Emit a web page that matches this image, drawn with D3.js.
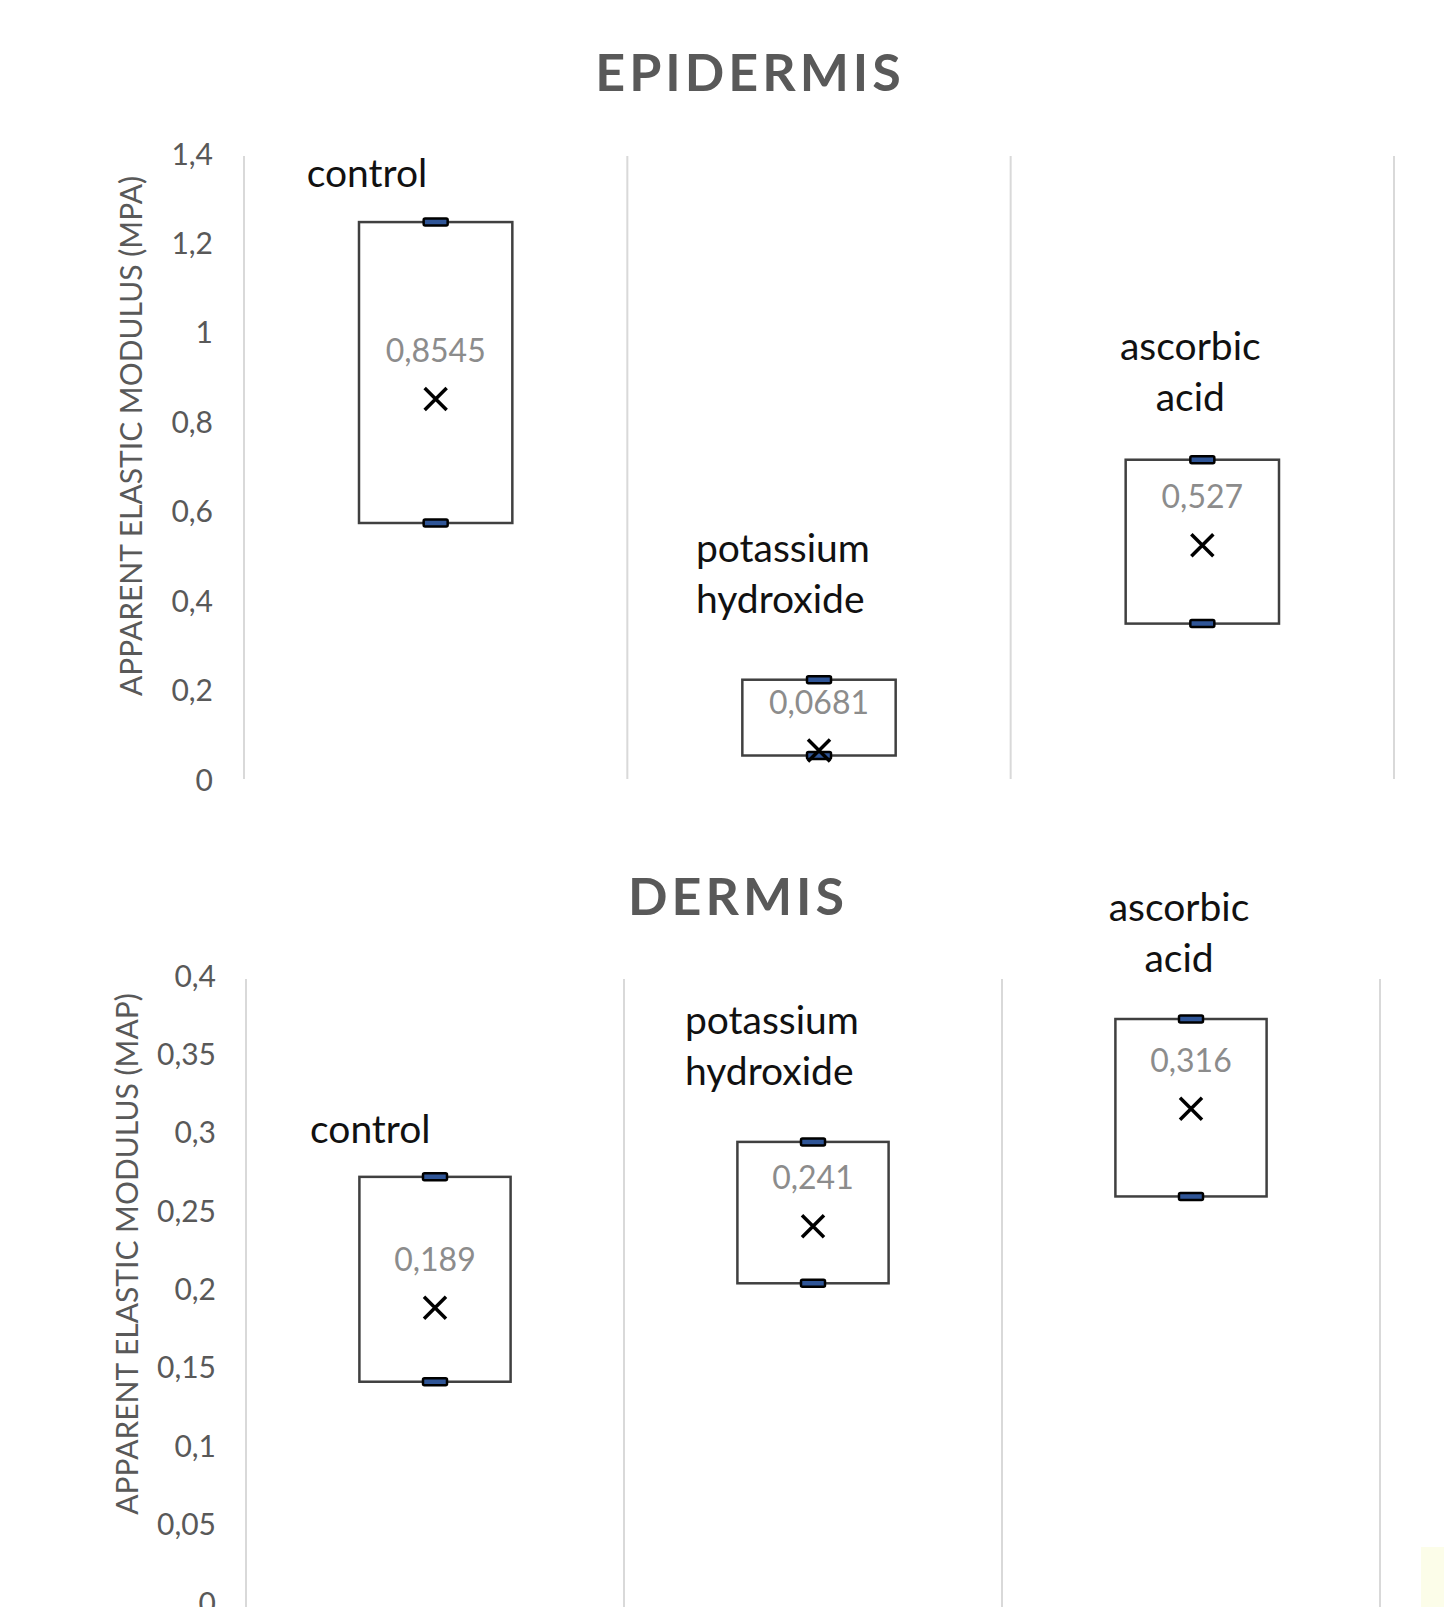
<!DOCTYPE html>
<html>
<head>
<meta charset="utf-8">
<script src="https://cdn.jsdelivr.net/npm/d3@7"></script>
<style>
  html, body { margin: 0; padding: 0; background: #fff; }
  svg { display: block; }
  text { font-family: Lato, "Open Sans", sans-serif; }
</style>
</head>
<body>
<svg id="chart" width="1444" height="1607"></svg>
<script>
// ---------- data ----------
const categories = ["control", "potassium hydroxide", "ascorbic acid"];
const categoryLines = [["control"], ["potassium", "hydroxide"], ["ascorbic", "acid"]];

// Epidermis
const epidermisLow  = [0.577, 0.057, 0.352];
const epidermisHigh = [1.250, 0.2265, 0.7185];
const epidermisMean = [0.8545, 0.0681, 0.527];
const epidermisMeanLabels = ["0,8545", "0,0681", "0,527"];
const epidermisTicks = [0, 0.2, 0.4, 0.6, 0.8, 1, 1.2, 1.4];
const epidermisTickLabels = ["0", "0,2", "0,4", "0,6", "0,8", "1", "1,2", "1,4"];

// Dermis
const dermisLow  = [0.1418, 0.2046, 0.260];
const dermisHigh = [0.2725, 0.2948, 0.3732];
const dermisMean = [0.189, 0.241, 0.316];
const dermisMeanLabels = ["0,189", "0,241", "0,316"];
const dermisTicks = [0, 0.05, 0.1, 0.15, 0.2, 0.25, 0.3, 0.35, 0.4];
const dermisTickLabels = ["0", "0,05", "0,1", "0,15", "0,2", "0,25", "0,3", "0,35", "0,4"];

// ---------- layout ----------
const svg = d3.select("#chart");

// yellowish artefact in bottom-right corner
svg.append("rect").attr("x", 1421).attr("y", 1547).attr("width", 23).attr("height", 60).attr("fill", "#fcfde9");

const panels = [
  {
    title: "EPIDERMIS", titleX: 750, titleY: 91,
    axisTitle: "APPARENT ELASTIC MODULUS (MPA)", axisTitleX: 131, axisTitleY: 436,
    yDomain: [0, 1.4], yRange: [781, 155], xRange: [244, 1394], gridTop: 156, gridBottom: 779,
    tickRight: 213,
    low: epidermisLow, high: epidermisHigh, mean: epidermisMean, meanLabels: epidermisMeanLabels,
    ticks: epidermisTicks, tickLabels: epidermisTickLabels,
    // label placement: [x offset from band centre, anchor, baseline of last line relative to box top]
    labelPos: [[-129, "start", -35], [-123, "start", -67], [-12, "middle", -49]]
  },
  {
    title: "DERMIS", titleX: 738, titleY: 915,
    axisTitle: "APPARENT ELASTIC MODULUS (MAP)", axisTitleX: 127, axisTitleY: 1254,
    yDomain: [0, 0.4], yRange: [1604, 977], xRange: [246, 1380], gridTop: 979, gridBottom: 1607,
    tickRight: 216,
    low: dermisLow, high: dermisHigh, mean: dermisMean, meanLabels: dermisMeanLabels,
    ticks: dermisTicks, tickLabels: dermisTickLabels,
    labelPos: [[-125, "start", -34], [-128, "start", -57], [-12, "middle", -47]]
  }
];

panels.forEach(p => {
  const g = svg.append("g");
  const x = d3.scaleBand().domain(categories).range(p.xRange).padding(0);
  const y = d3.scaleLinear().domain(p.yDomain).range(p.yRange);
  const bw = x.bandwidth() * 0.4;

  // gridlines (category separators)
  const seps = categories.map(c => x(c)).concat([p.xRange[1]]);
  g.selectAll("line.grid").data(seps).join("line")
    .attr("x1", d => d).attr("x2", d => d)
    .attr("y1", p.gridTop).attr("y2", p.gridBottom)
    .attr("stroke", "#d9d9d9").attr("stroke-width", 2);

  // y axis
  const axis = d3.axisLeft(y).tickValues(p.ticks)
    .tickFormat((d, i) => p.tickLabels[i]).tickSize(0).tickPadding(0);
  const ag = g.append("g").attr("transform", `translate(${p.tickRight},0)`).call(axis);
  ag.select(".domain").remove();
  ag.selectAll("text").attr("font-size", 30).attr("fill", "#595959")
    .attr("font-family", "Lato, sans-serif").attr("dy", "0.3em");

  // title
  g.append("text").attr("x", p.titleX).attr("y", p.titleY).attr("text-anchor", "middle")
    .attr("font-size", 52).attr("font-weight", 700).attr("letter-spacing", 4)
    .attr("fill", "#595959").text(p.title);

  // axis title
  g.append("text").attr("transform", `translate(${p.axisTitleX},${p.axisTitleY}) rotate(-90)`)
    .attr("text-anchor", "middle").attr("dy", "0.36em")
    .attr("font-size", 30).attr("fill", "#595959").text(p.axisTitle);

  // boxes
  categories.forEach((c, i) => {
    const cx = x(c) + x.bandwidth() / 2;
    const yt = y(p.high[i]), yb = y(p.low[i]), ym = y(p.mean[i]);
    g.append("rect").attr("x", cx - bw / 2).attr("y", yt).attr("width", bw).attr("height", yb - yt)
      .attr("fill", "none").attr("stroke", "#404040").attr("stroke-width", 2.5);
    // whisker caps
    [yt, yb].forEach(yy => {
      g.append("rect").attr("x", cx - 12).attr("y", yy - 3.5).attr("width", 24).attr("height", 7)
        .attr("rx", 1.5).attr("fill", "#2f5597").attr("stroke", "#000").attr("stroke-width", 2.5);
    });
    // mean marker
    const s = 11;
    g.append("path").attr("d", `M${cx - s},${ym - s}L${cx + s},${ym + s}M${cx - s},${ym + s}L${cx + s},${ym - s}`)
      .attr("stroke", "#000").attr("stroke-width", 3.5).attr("fill", "none");
    // mean label
    g.append("text").attr("x", cx).attr("y", ym - 37).attr("text-anchor", "middle")
      .attr("font-size", 32).attr("fill", "#8c8c8c").text(p.meanLabels[i]);
    // category label
    const lp = p.labelPos[i];
    const lines = categoryLines[i];
    const lineH = 51;
    const t = g.append("text").attr("text-anchor", lp[1]).attr("font-size", 39).attr("fill", "#111");
    lines.forEach((ln, k) => {
      t.append("tspan").attr("x", cx + lp[0])
        .attr("y", yt + lp[2] - (lines.length - 1 - k) * lineH).text(ln);
    });
  });
});
</script>
</body>
</html>
